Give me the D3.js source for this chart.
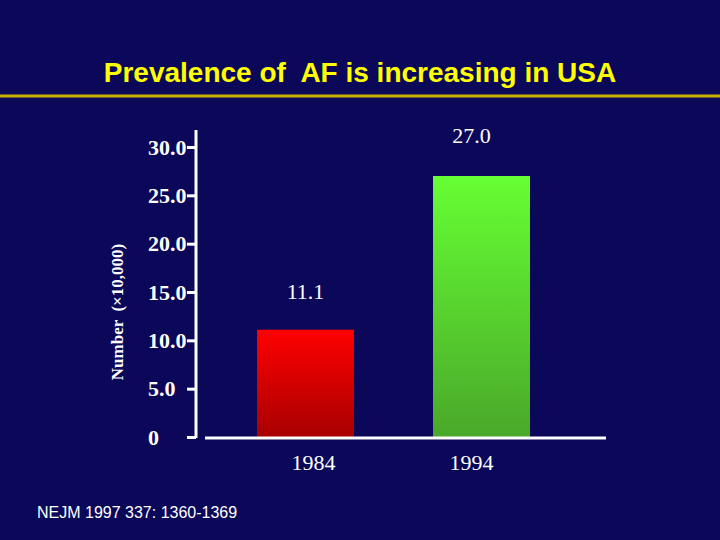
<!DOCTYPE html>
<html><head><meta charset="utf-8">
<script src="https://cdn.jsdelivr.net/npm/d3@7"></script>
<style>body{margin:0;background:#0b0759;} text{white-space:pre;}</style>
</head><body>
<div id="chart"></div>
<script>
const years = ["1984", "1994"];
const values = [11.1, 27.0];
const labels = ["11.1", "27.0"];
const ticks = [0, 5, 10, 15, 20, 25, 30];

const W = 720, H = 540;
const svg = d3.select("#chart").append("svg").attr("width", W).attr("height", H);
svg.append("rect").attr("width", W).attr("height", H).attr("fill", "#0b0759");

// title
svg.append("text").attr("x", 360).attr("y", 82).attr("text-anchor", "middle")
    .attr("font-family", "Liberation Sans, Arial").attr("font-weight", "bold")
    .attr("font-size", 28).attr("fill", "#ffff00")
    .text("Prevalence of  AF is increasing in USA");
svg.append("line").attr("x1", 0).attr("x2", 720).attr("y1", 96).attr("y2", 96)
    .attr("stroke", "#c8b400").attr("stroke-width", 3);

const y = d3.scaleLinear().domain([0, 30]).range([437, 147]);
const x = d3.scaleBand().domain(years).range([257, 530]).paddingInner(0.449).paddingOuter(0);

const defs = svg.append("defs");
const g1 = defs.append("linearGradient").attr("id", "gr").attr("x1", 0).attr("x2", 0).attr("y1", 0).attr("y2", 1);
g1.append("stop").attr("offset", "0").attr("stop-color", "#ff0000");
g1.append("stop").attr("offset", "1").attr("stop-color", "#a80000");
const g2 = defs.append("linearGradient").attr("id", "gg").attr("x1", 0).attr("x2", 0).attr("y1", 0).attr("y2", 1);
g2.append("stop").attr("offset", "0").attr("stop-color", "#66ff33");
g2.append("stop").attr("offset", "1").attr("stop-color", "#4aa82a");

// y axis
const ax = svg.append("g").attr("transform", "translate(196,0)")
    .call(d3.axisLeft(y).tickValues(ticks).tickSize(9).tickFormat(d => d === 0 ? "0" : d.toFixed(1)));
ax.select(".domain").attr("stroke", "#fff").attr("stroke-width", 3).attr("d", "M0,130V438");
ax.selectAll(".tick line").attr("stroke", "#fff").attr("stroke-width", 3);
ax.selectAll(".tick text").attr("fill", "#fff").attr("x", -48).attr("text-anchor", "start")
    .attr("font-family", "Liberation Serif, Times New Roman").attr("font-weight", "bold").attr("font-size", 22);

svg.append("text").attr("transform", "translate(123,312) rotate(-90)").attr("text-anchor", "middle")
    .attr("font-family", "Liberation Serif, Times New Roman").attr("font-weight", "bold")
    .attr("font-size", 17).attr("fill", "#fff").text("Number  (×10,000)");

// bars
svg.selectAll("rect.bar").data(values).enter().append("rect")
    .attr("x", (d, i) => x(years[i])).attr("width", x.bandwidth())
    .attr("y", d => y(d)).attr("height", d => y(0) - y(d))
    .attr("fill", (d, i) => i === 0 ? "url(#gr)" : "url(#gg)");

svg.selectAll("text.val").data(values).enter().append("text")
    .attr("x", (d, i) => x(years[i]) + x.bandwidth() / 2 + (i === 0 ? 0 : -10))
    .attr("y", (d, i) => i === 0 ? y(15) + 7 : 143)
    .attr("text-anchor", "middle").attr("fill", "#fff")
    .attr("font-family", "Liberation Serif, Times New Roman").attr("font-size", 22)
    .text((d, i) => labels[i]);

// x baseline
svg.append("line").attr("x1", 205).attr("x2", 606).attr("y1", 438).attr("y2", 438)
    .attr("stroke", "#fff").attr("stroke-width", 3);
svg.selectAll("text.yr").data(years).enter().append("text")
    .attr("x", (d, i) => x(d) + x.bandwidth() / 2 + (i === 0 ? 8 : -10)).attr("y", 470)
    .attr("text-anchor", "middle").attr("fill", "#fff")
    .attr("font-family", "Liberation Serif, Times New Roman").attr("font-size", 22).text(d => d);

svg.append("text").attr("x", 37).attr("y", 518).attr("fill", "#fff")
    .attr("font-family", "Liberation Sans, Arial").attr("font-size", 16).text("NEJM 1997 337: 1360-1369");
</script>
</body></html>
